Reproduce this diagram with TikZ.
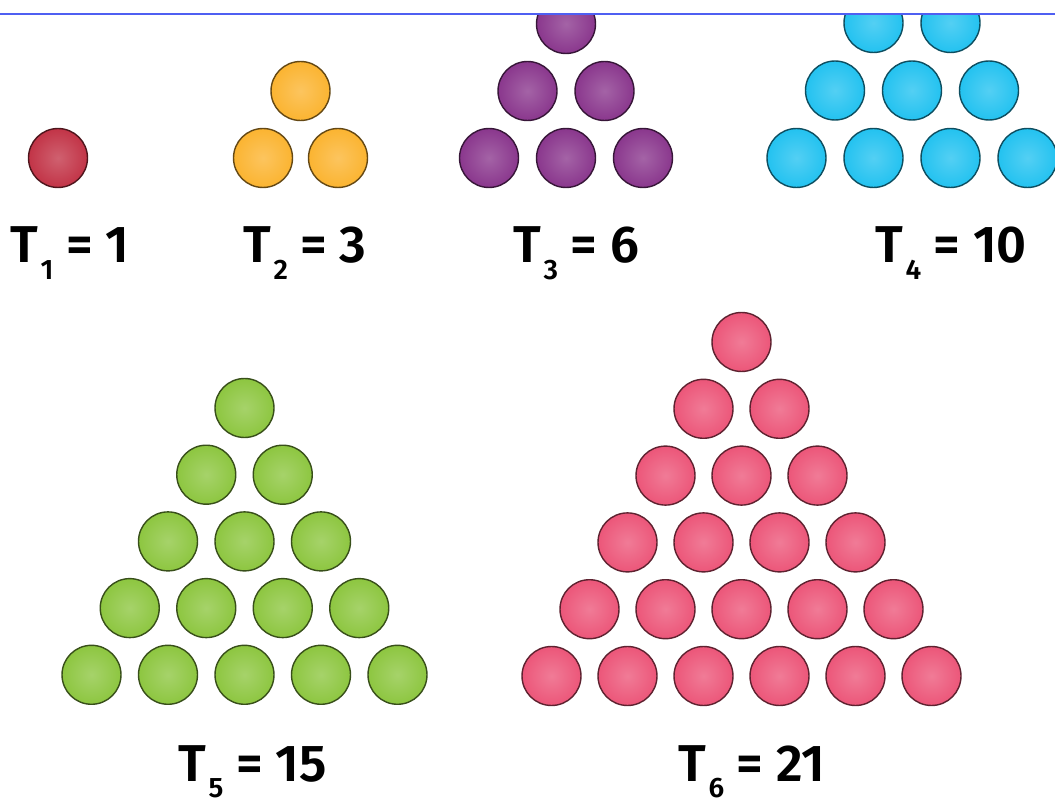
\documentclass[tikz,border=0pt]{standalone}
\usepackage{fontspec}
\setsansfont{Fira Sans}[BoldFont={Fira Sans SemiBold}]
\usetikzlibrary{positioning}
\definecolor{tred}{HTML}{C23447}
\definecolor{torange}{HTML}{FBB431}
\definecolor{tpurple}{HTML}{8A378D}
\definecolor{tcyan}{HTML}{23C2F0}
\definecolor{tgreen}{HTML}{8DC640}
\definecolor{tpink}{HTML}{EC5679}
\definecolor{rulerblue}{HTML}{4F5FF2}
\newcommand{\tsub}[1]{\kern1.5pt\raisebox{-9.6pt}{\fontsize{16}{16}\selectfont #1}}
\tikzset{
  bead/.style={circle, inner sep=0pt, minimum size=1.18cm, line width=0.8pt,
    draw=#1!40!black, inner color=#1!78!white, outer color=#1},
  tlabel/.style={anchor=base west, inner sep=0pt,
    font=\sffamily\bfseries\fontsize{29.5}{30}\selectfont},
  ruler/.style={draw=rulerblue, line width=1.4pt},
}
\begin{document}
\begin{tikzpicture}[x=0.02cm, y=-0.02cm]
  \useasboundingbox (0,0) rectangle (1055,803);
  % triangles of beads, one row more each time
  \begin{scope}
    \clip (0,14) rectangle (1055,803);
    \foreach \n/\clr/\xo/\yo/\dx/\dy in {1/tred/58/158/75/67, 2/torange/300.5/91/75/67,
        3/tpurple/566/24/77/67, 4/tcyan/912/-44.5/77/67.5,
        5/tgreen/244.5/408/76.5/66.7, 6/tpink/741.5/342/76/66.8}
      \foreach \rw in {1,...,\n}
        \foreach \k in {1,...,\rw}
          \node[bead=\clr] (t\n-\rw-\k) at ({\xo+(\k-(\rw+1)/2)*\dx},{\yo+(\rw-1)*\dy}) {};
  \end{scope}
  \coordinate (rl) at (0,14);
  \coordinate (rr) at (1055,14);
  \draw[ruler] (rl) -- (rr);
  % labels
  \node[tlabel] (l1) at (10,263) {T\tsub{1} = 1};
  \node[tlabel] (l2) at (243,263) {T\tsub{2} = 3};
  \node[tlabel] (l3) at (513,263) {T\tsub{3} = 6};
  \node[tlabel] (l4) at (875,263) {T\tsub{4} = 10};
  \node[tlabel] (l5) at (178,781) {T\tsub{5} = 15};
  \node[tlabel] (l6) at (678,781) {T\tsub{6} = 21};
\end{tikzpicture}
\end{document}
